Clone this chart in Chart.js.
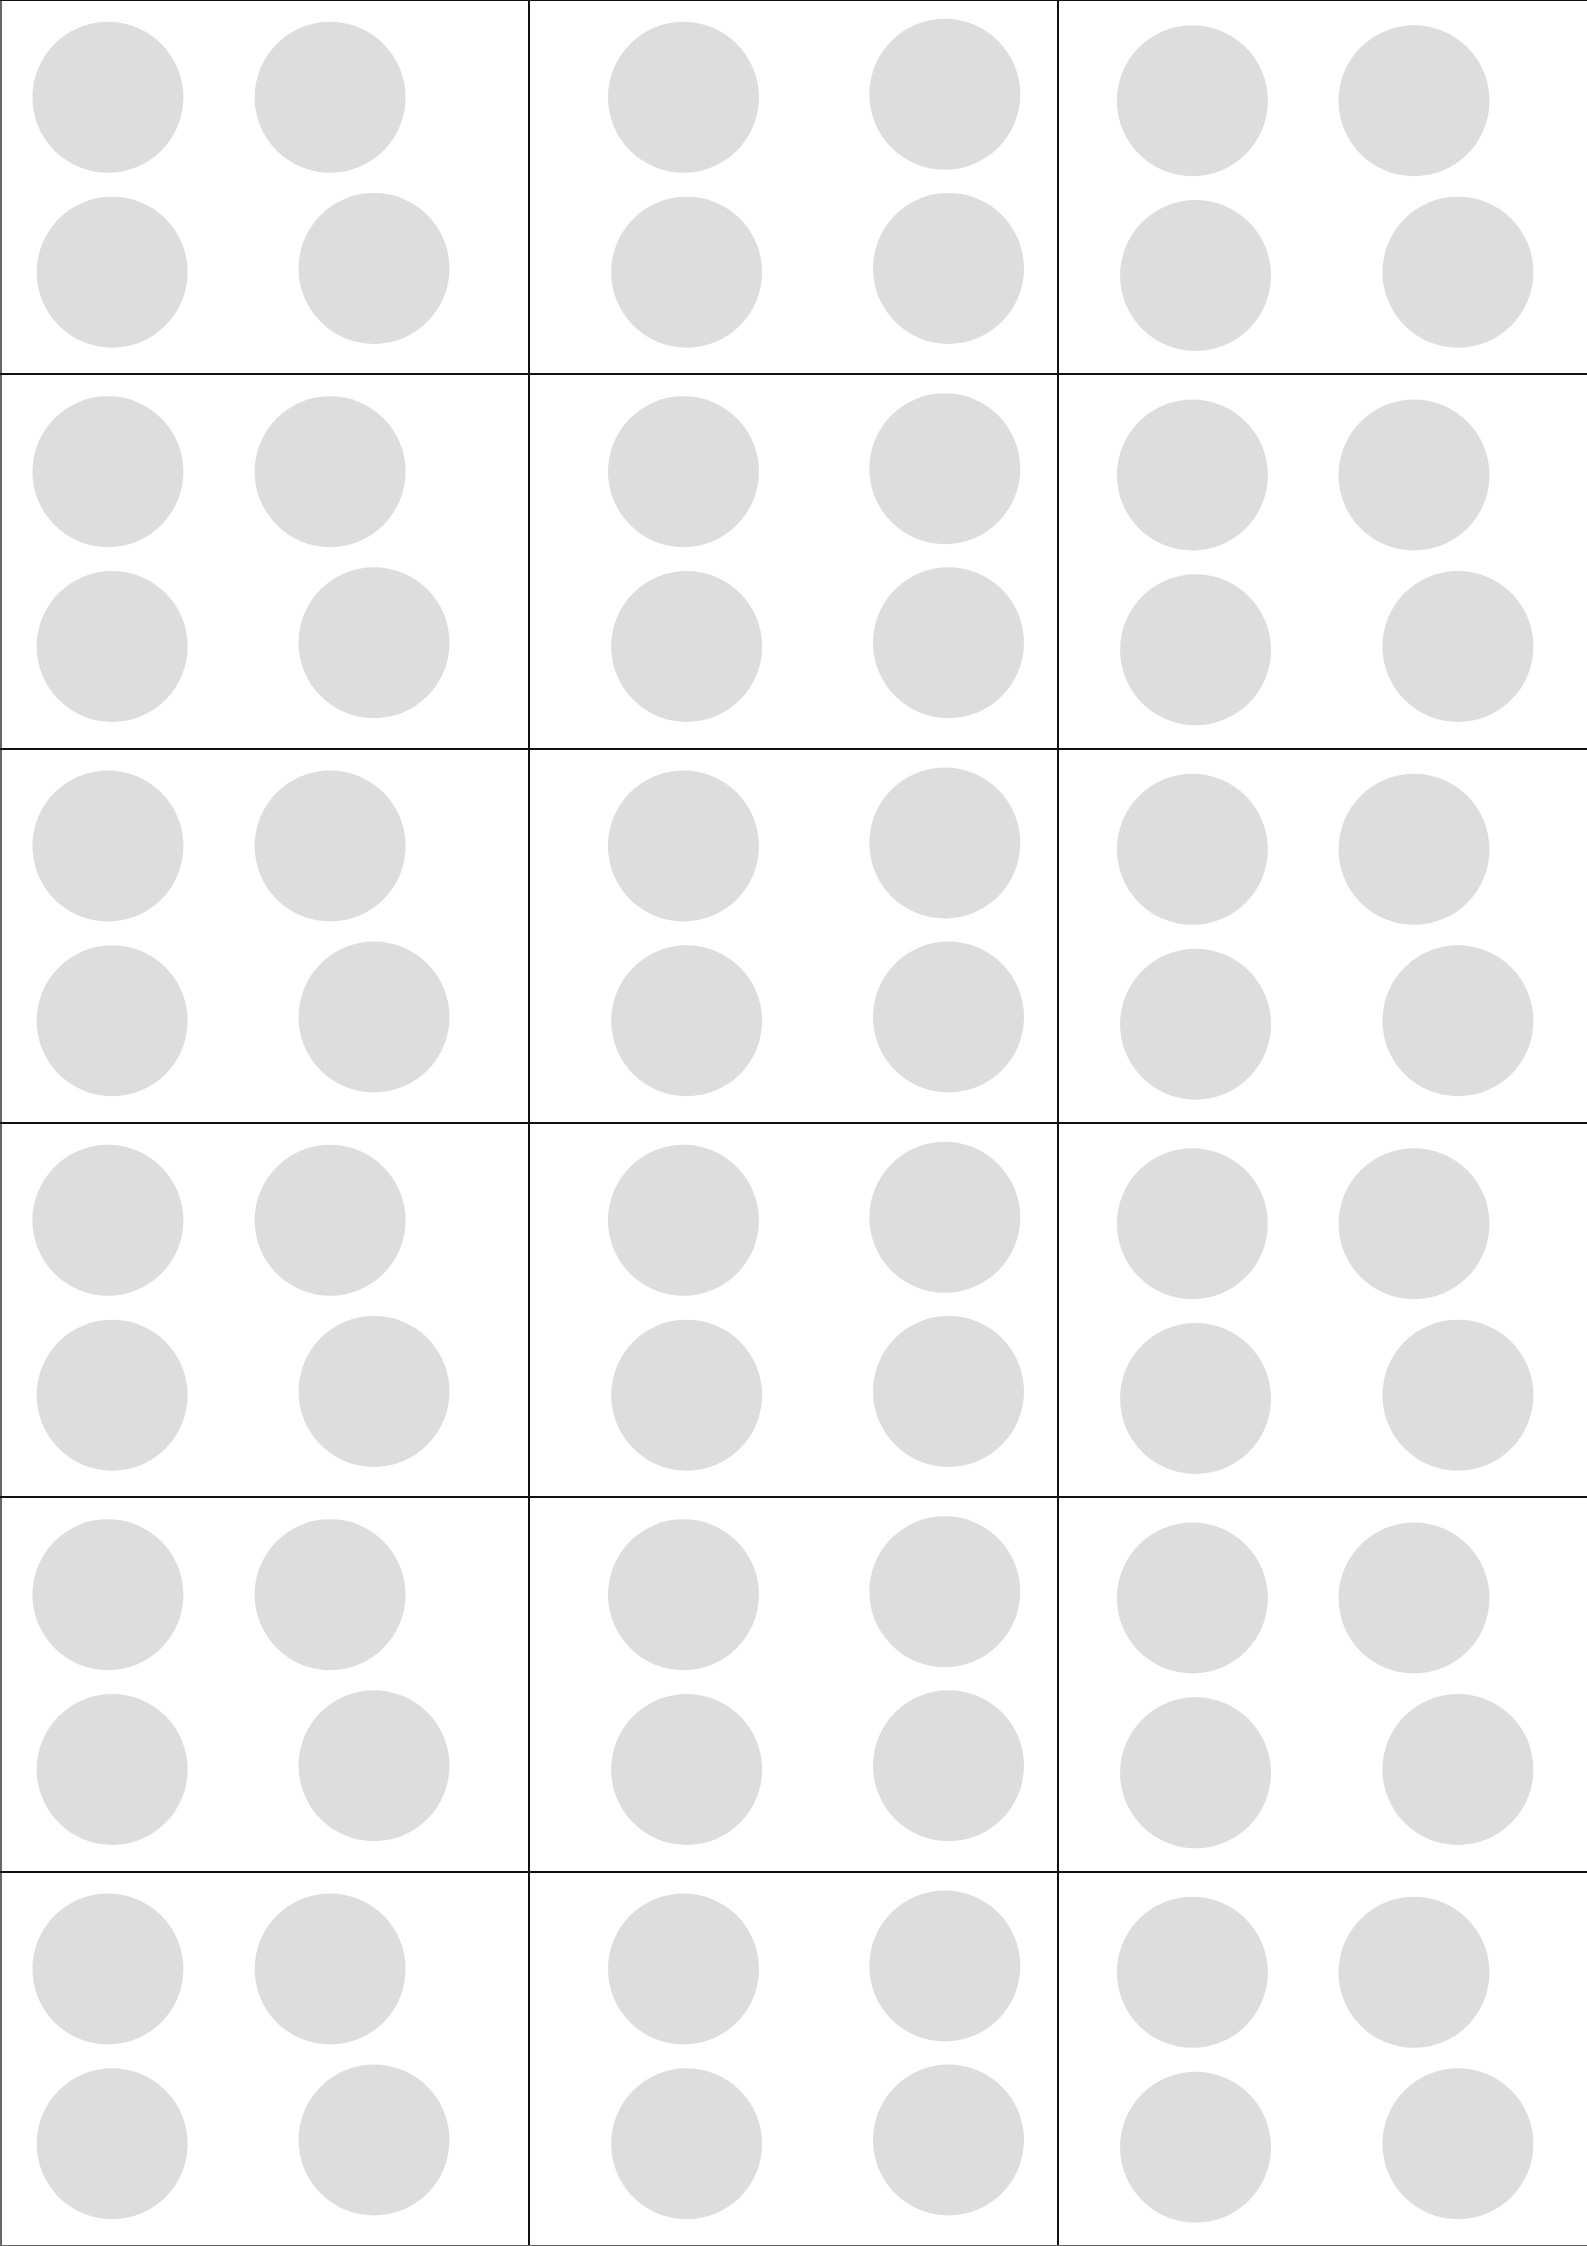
<!DOCTYPE html>
<html>
<head>
<meta charset="utf-8">
<script src="https://cdn.jsdelivr.net/npm/chart.js@4/dist/chart.umd.min.js"></script>
<style>
html,body{margin:0;padding:0;background:#fff;}
canvas{display:block;}
</style>
</head>
<body>
<canvas id="c" width="1587" height="2246"></canvas>
<script>
// Grid: 3 columns x 6 rows of cells, each holding four grey dots.
// Dot positions inside one row (x in column units, y as fraction of row)
const dotX = [0.204, 0.624, 0.212, 0.707, 1.292, 1.786, 1.298, 1.793, 2.254, 2.673, 2.260, 2.756];
const dotY = [0.260, 0.260, 0.727, 0.717, 0.260, 0.252, 0.727, 0.717, 0.269, 0.269, 0.736, 0.727];
const rowIndex = [0, 1, 2, 3, 4, 5];

const points = [];
rowIndex.forEach(r => {
  dotX.forEach((x, i) => points.push({x: x, y: r + dotY[i]}));
});

new Chart(document.getElementById('c'), {
  type: 'scatter',
  data: {
    datasets: [{
      data: points,
      backgroundColor: '#dddddd',
      borderWidth: 0,
      pointRadius: 75.5,
      pointHoverRadius: 75.5,
      pointStyle: 'circle'
    }]
  },
  options: {
    responsive: false,
    animation: false,
    devicePixelRatio: 1,
    layout: {padding: 0, autoPadding: false},
    plugins: {legend: {display: false}, tooltip: {enabled: false}},
    scales: {
      x: {
        type: 'linear', min: 0, max: 3,
        ticks: {display: false, stepSize: 1},
        grid: {
          color: ctx => ctx.index === 0 ? '#666' : (ctx.index === 3 ? 'rgba(0,0,0,0)' : '#111'),
          lineWidth: ctx => ctx.index === 0 ? 3 : 2,
          drawTicks: false
        },
        border: {display: false}
      },
      y: {
        type: 'linear', min: 0, max: 6, reverse: true,
        ticks: {display: false, stepSize: 1},
        grid: {
          color: ctx => ctx.index === 0 ? '#666' : '#111',
          lineWidth: ctx => ctx.index === 0 ? 3 : 2,
          drawTicks: false
        },
        border: {display: false}
      }
    }
  }
});
</script>
</body>
</html>
